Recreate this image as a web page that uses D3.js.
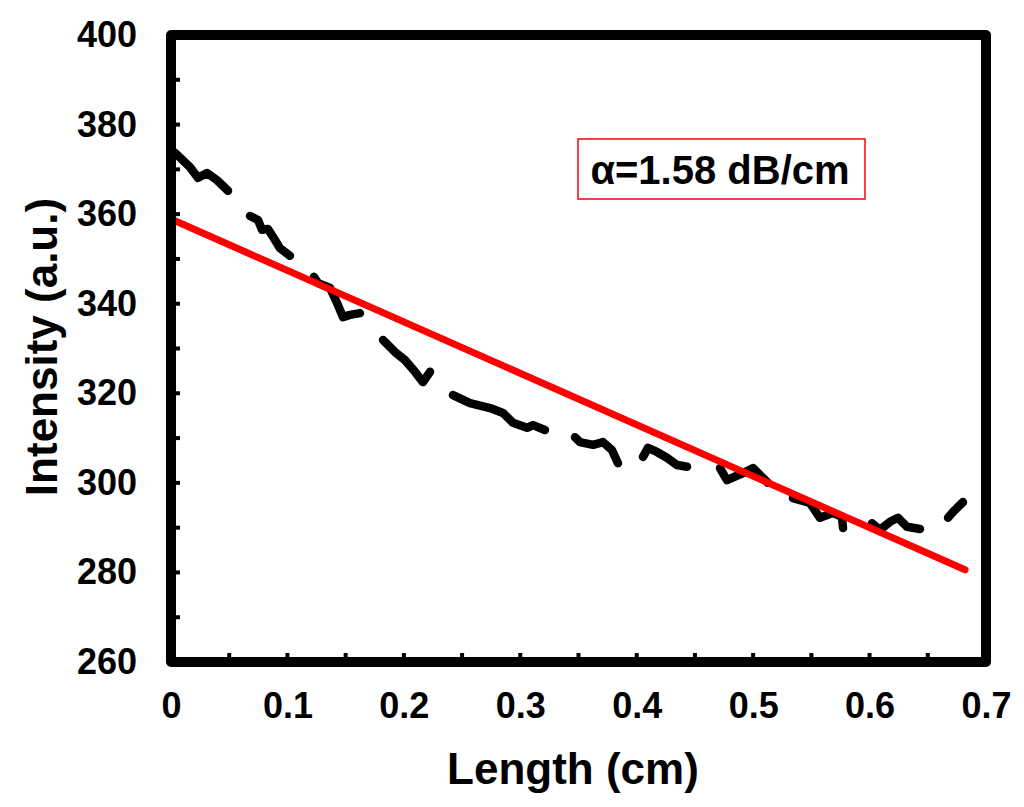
<!DOCTYPE html>
<html>
<head>
<meta charset="utf-8">
<script src="https://cdn.jsdelivr.net/npm/d3@7"></script>
<style>
  html, body { margin: 0; padding: 0; background: #fff; }
  svg { display: block; }
  text { font-family: "Liberation Sans", Arial, sans-serif; font-weight: bold; fill: #000; }
</style>
</head>
<body>
<svg id="chart" width="1024" height="807"></svg>
<script>
// Measured data (Length in cm, Intensity in a.u.); null marks the gaps of the dashed trace
const lengthCm = [
  0.0034, 0.0163, 0.0232, 0.0309, 0.0395, 0.0490, null,
  0.0679, 0.0747, 0.0782, 0.0833, 0.0893, 0.0936, 0.1022, null,
  0.1228, 0.1263, 0.1366, 0.1426, 0.1477, 0.1537, 0.1623, null,
  0.1821, 0.1924, 0.2010, 0.2096, 0.2164, 0.2225, null,
  0.2422, 0.2568, 0.2740, 0.2852, 0.2937, 0.3058, 0.3109, 0.3212, null,
  0.3470, 0.3513, 0.3625, 0.3710, 0.3788, 0.3839, null,
  0.4054, 0.4097, 0.4174, 0.4260, 0.4346, 0.4432, null,
  0.4715, 0.4775, 0.4913, 0.4999, 0.5076, 0.5127, null,
  0.5342, 0.5488, 0.5574, 0.5686, 0.5763, 0.5772, null,
  0.6021, 0.6089, 0.6175, 0.6244, 0.6321, 0.6433, null,
  0.6674, 0.6716, 0.6802
];
const intensity = [
  373.7, 370.5, 368.1, 369.2, 367.6, 365.2, null,
  359.6, 358.7, 356.5, 356.7, 354.2, 352.4, 350.7, null,
  346.0, 344.6, 343.5, 340.2, 337.0, 337.5, 337.9, null,
  331.9, 329.2, 327.4, 324.8, 322.5, 324.8, null,
  319.6, 317.8, 316.7, 315.6, 313.4, 312.3, 312.9, 311.8, null,
  310.2, 309.1, 308.5, 309.1, 307.3, 304.4, null,
  305.8, 307.8, 306.9, 305.6, 304.0, 303.6, null,
  303.3, 300.6, 302.2, 303.3, 301.3, 300.0, null,
  296.6, 295.5, 292.2, 293.3, 292.4, 289.9, null,
  291.0, 289.5, 291.3, 292.2, 290.2, 289.7, null,
  292.2, 293.5, 295.7
];
// Linear fit
const fitX = [0, 0.682];
const fitY = [358.9, 280.6];
// Axes
const xMajorTicks = [0, 0.1, 0.2, 0.3, 0.4, 0.5, 0.6, 0.7];
const xMinorTicks = [0.05, 0.1, 0.15, 0.2, 0.25, 0.3, 0.35, 0.4, 0.45, 0.5, 0.55, 0.6, 0.65];
const yMajorTicks = [260, 280, 300, 320, 340, 360, 380, 400];
const yMinorTicks = [270, 280, 290, 300, 310, 320, 330, 340, 350, 360, 370, 380, 390];
const xTickLabels = ["0", "0.1", "0.2", "0.3", "0.4", "0.5", "0.6", "0.7"];
const legendText = "α=1.58 dB/cm";
const xTitle = "Length (cm)";
const yTitle = "Intensity (a.u.)";

const svg = d3.select("#chart");
const L = 171, R = 986, T = 35, B = 662;
const x = d3.scaleLinear().domain([0, 0.7]).range([L, R]);
const y = d3.scaleLinear().domain([260, 400]).range([B, T]);

// minor/major inward ticks
const gTicks = svg.append("g");
gTicks.selectAll(".xt").data(xMinorTicks).enter().append("line")
  .attr("x1", d => x(d)).attr("x2", d => x(d))
  .attr("y1", B).attr("y2", B - 9)
  .attr("stroke", "#000").attr("stroke-width", 4);
gTicks.selectAll(".yt").data(yMinorTicks).enter().append("line")
  .attr("y1", d => y(d)).attr("y2", d => y(d))
  .attr("x1", L).attr("x2", L + 9)
  .attr("stroke", "#000").attr("stroke-width", 4);

// tick labels via axes
const xAxis = d3.axisBottom(x).tickValues(xMajorTicks).tickSize(0).tickPadding(30)
  .tickFormat((d, i) => xTickLabels[i]);
svg.append("g").attr("transform", `translate(0,${B})`).call(xAxis)
  .call(g => g.select(".domain").remove())
  .call(g => g.selectAll("text").attr("font-size", 36).attr("font-family", null).attr("fill", "#000"));

const yAxis = d3.axisLeft(y).tickValues(yMajorTicks).tickSize(0).tickPadding(34)
  .tickFormat(d3.format("d"));
svg.append("g").attr("transform", `translate(${L},0)`).call(yAxis)
  .call(g => g.select(".domain").remove())
  .call(g => g.selectAll("text").attr("font-size", 36).attr("font-family", null).attr("fill", "#000"));

// data trace
const pts = lengthCm.map((v, i) => ({ x: v, y: intensity[i] }));
const line = d3.line().defined(d => d.x != null && d.y != null)
  .x(d => x(d.x)).y(d => y(d.y)).curve(d3.curveLinear);
svg.append("path").datum(pts).attr("d", line)
  .attr("fill", "none").attr("stroke", "#000").attr("stroke-width", 8.5)
  .attr("stroke-linecap", "round").attr("stroke-linejoin", "round");

// fit line
const fitPts = fitX.map((v, i) => ({ x: v, y: fitY[i] }));
svg.append("path").datum(fitPts).attr("d", line)
  .attr("fill", "none").attr("stroke", "#ff0000").attr("stroke-width", 7)
  .attr("stroke-linecap", "round");

// frame
svg.append("rect").attr("x", L).attr("y", T).attr("width", R - L).attr("height", B - T)
  .attr("fill", "none").attr("stroke", "#000").attr("stroke-width", 10)
  .attr("stroke-linejoin", "round");

// legend box
svg.append("rect").attr("x", 578).attr("y", 139).attr("width", 287).attr("height", 60)
  .attr("fill", "#fff").attr("stroke", "#ff0000").attr("stroke-width", 1.5);
svg.append("text").attr("x", 720).attr("y", 184).attr("text-anchor", "middle")
  .attr("font-size", 40).text(legendText);

// axis titles
svg.append("text").attr("x", 573).attr("y", 784).attr("text-anchor", "middle")
  .attr("font-size", 44).text(xTitle);
svg.append("text").attr("transform", "translate(57,347) rotate(-90)").attr("text-anchor", "middle")
  .attr("font-size", 44).text(yTitle);
</script>
</body>
</html>
